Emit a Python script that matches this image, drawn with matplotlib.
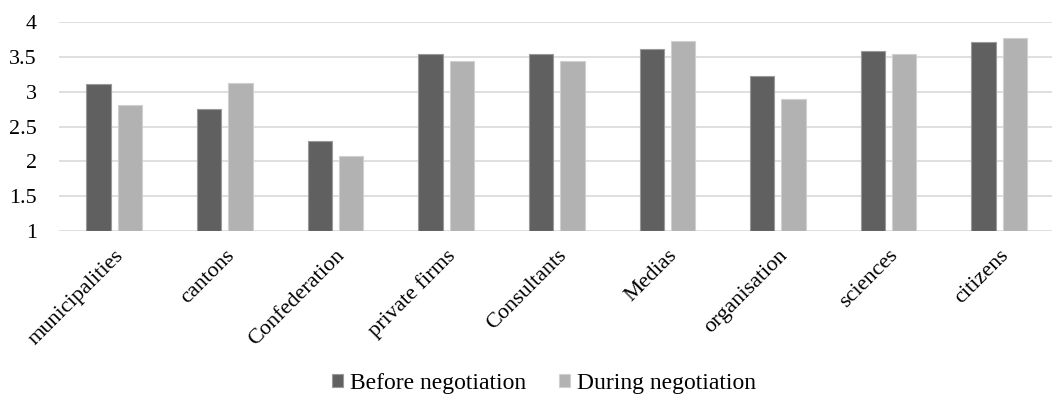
import matplotlib.pyplot as plt
import numpy as np

plt.rcParams['font.family'] = ['Liberation Serif', 'DejaVu Serif']

categories = ['municipalities', 'cantons', 'Confederation', 'private firms',
              'Consultants', 'Medias', 'organisation', 'sciences', 'citizens']
before = [3.11, 2.75, 2.29, 3.54, 3.55, 3.62, 3.23, 3.59, 3.72]
during = [2.81, 3.13, 2.08, 3.44, 3.44, 3.73, 2.90, 3.55, 3.78]

fig = plt.figure(figsize=(10.52, 3.98), dpi=100)
# plot area runs slightly past the right edge, as in the original
ax = fig.add_axes([59/1052, 1 - 231/398, 995.5/1052, (231 - 22.3)/398])

x = np.arange(len(categories))
w = 0.22
off = 0.1415
ax.bar(x - off, np.array(before) - 1, w, bottom=1, color='#606060',
       edgecolor='#9a9a9a', linewidth=0.8, label='Before negotiation', zorder=3)
ax.bar(x + off, np.array(during) - 1, w, bottom=1, color='#b2b2b2',
       edgecolor='#d0d0d0', linewidth=0.8, label='During negotiation', zorder=3)

ax.set_xlim(-0.5, len(categories) - 0.5)
ax.set_ylim(1, 4)
ax.set_yticks([1, 1.5, 2, 2.5, 3, 3.5, 4])
ax.set_yticklabels(['1', '1.5', '2', '2.5', '3', '3.5', '4'])
ax.yaxis.grid(True, color='#d9d9d9', linewidth=1.2, zorder=0)
ax.set_axisbelow(True)
for s in ax.spines.values():
    s.set_visible(False)
ax.tick_params(axis='both', length=0)
ax.tick_params(axis='y', pad=16, labelsize=15.8)
ax.set_xticks(x)
ax.set_xticklabels(categories, rotation=45, ha='right', rotation_mode='anchor',
                   fontsize=16)
ax.tick_params(axis='x', pad=11)

ax.legend(loc='center', bbox_to_anchor=(544/1052, 1 - 383/398),
          bbox_transform=fig.transFigure, ncol=2, frameon=False,
          fontsize=17, handlelength=0.47, handleheight=0.47,
          handletextpad=0.3, columnspacing=1.35)

fig.savefig('out.png', dpi=100)
